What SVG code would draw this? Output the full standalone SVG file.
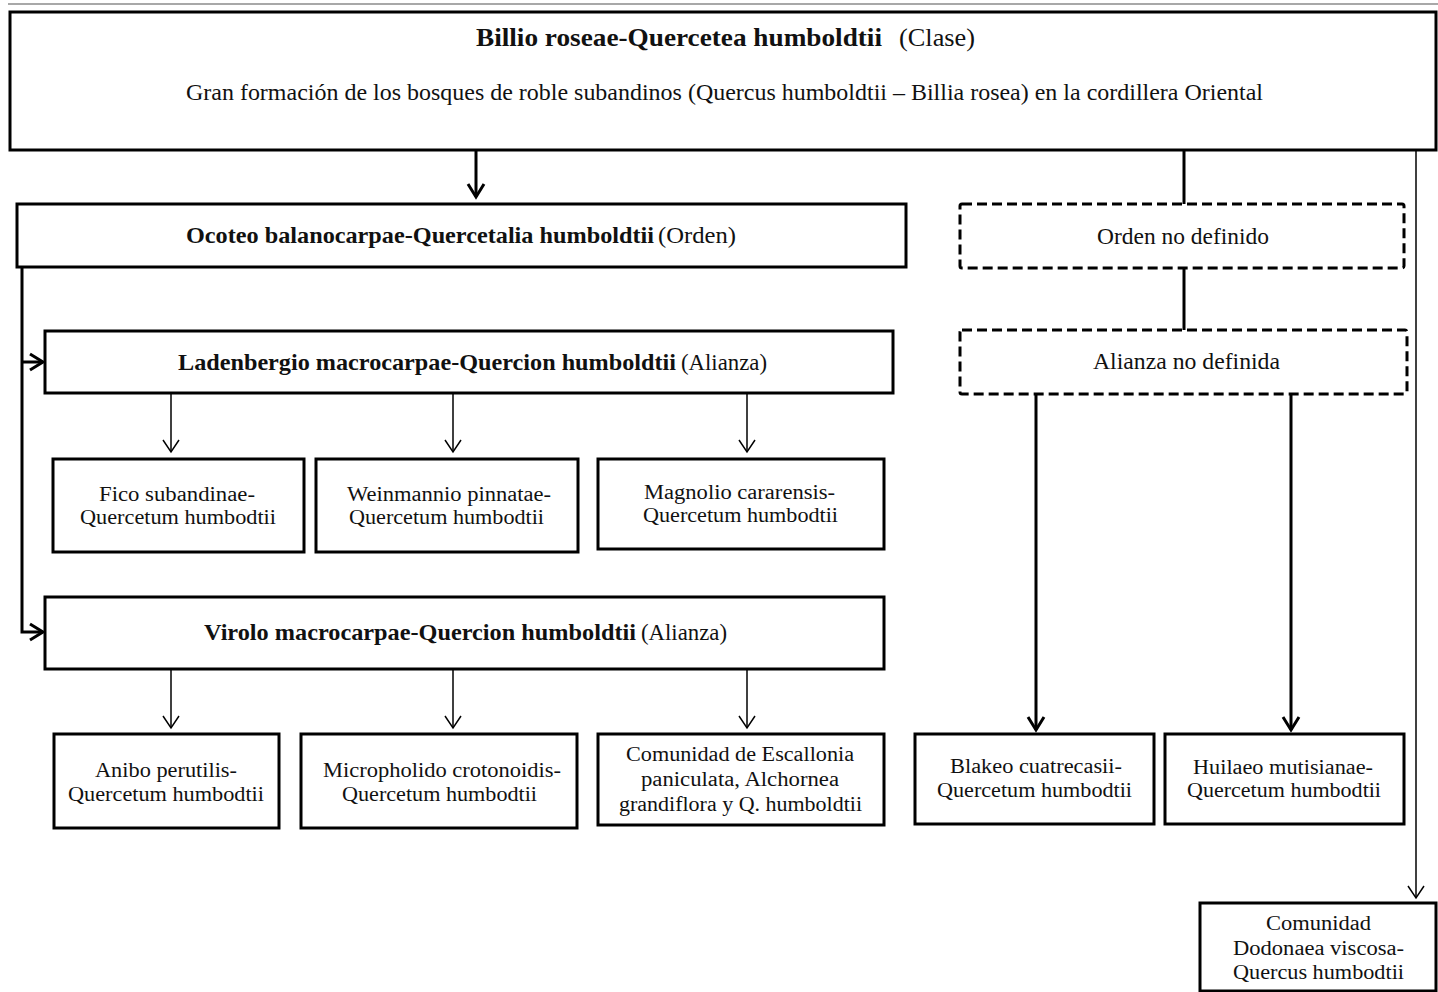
<svg xmlns="http://www.w3.org/2000/svg" width="1438" height="992" viewBox="0 0 1438 992">
  <style>
    .box { fill: #fff; stroke: #000; stroke-width: 3; }
    .dash { fill: #fff; stroke: #000; stroke-width: 3; stroke-dasharray: 10 5; }
    .t { font-family: "Liberation Serif", "Times New Roman", serif; fill: #111; }
    .b { font-weight: bold; }
    .big { font-size: 25px; }
    .mid { font-size: 23px; }
    .sm { font-size: 20px; }
    .thick { fill: none; stroke: #000; stroke-width: 3; }
    .thin { fill: none; stroke: #000; stroke-width: 1.5; }
  </style>
  <defs>
    <marker id="ahThick" markerUnits="userSpaceOnUse" markerWidth="20" markerHeight="20" viewBox="-15 -10 17 20" refX="0" refY="0" orient="auto">
      <path d="M-13,-8 L0,0 L-13,8" fill="none" stroke="#000" stroke-width="3"/>
    </marker>
    <marker id="ahThin" markerUnits="userSpaceOnUse" markerWidth="20" markerHeight="20" viewBox="-15 -10 17 20" refX="0" refY="0" orient="auto">
      <path d="M-12,-8 L0,0 L-12,8" fill="none" stroke="#000" stroke-width="1.5"/>
    </marker>
  </defs>

  <rect width="1438" height="992" fill="#fff"/>
  <line x1="8" y1="4" x2="1438" y2="4" stroke="#a8a8a8" stroke-width="2"/>

  <!-- connectors -->
  <g id="connectors">
    <path class="thick" d="M476,150 V197" marker-end="url(#ahThick)"/>
    <path class="thick" d="M22,267 V632 H43" marker-end="url(#ahThick)"/>
    <path class="thick" d="M22,362 H43" marker-end="url(#ahThick)"/>
    <path class="thin" d="M171,393 V452" marker-end="url(#ahThin)"/>
    <path class="thin" d="M453,393 V452" marker-end="url(#ahThin)"/>
    <path class="thin" d="M747,393 V452" marker-end="url(#ahThin)"/>
    <path class="thin" d="M171,669 V728" marker-end="url(#ahThin)"/>
    <path class="thin" d="M453,669 V728" marker-end="url(#ahThin)"/>
    <path class="thin" d="M747,669 V728" marker-end="url(#ahThin)"/>
    <path class="thick" d="M1184,150 V204"/>
    <path class="thick" d="M1184,268 V330"/>
    <path class="thick" d="M1036,394 V730" marker-end="url(#ahThick)"/>
    <path class="thick" d="M1291,394 V730" marker-end="url(#ahThick)"/>
    <path class="thin" d="M1416,150 V898" marker-end="url(#ahThin)"/>
  </g>

  <!-- class -->
  <g id="clase">
    <rect class="box" x="10" y="12" width="1426" height="138"/>
    <text class="t b big" x="476" y="46" textLength="406" lengthAdjust="spacingAndGlyphs">Billio  roseae-Quercetea humboldtii</text>
    <text class="t big" x="899" y="46" textLength="76" lengthAdjust="spacingAndGlyphs">(Clase)</text>
    <text class="t mid" x="186" y="100" textLength="1077" lengthAdjust="spacingAndGlyphs">Gran formación de los bosques de roble subandinos (Quercus humboldtii – Billia  rosea) en la cordillera Oriental</text>
  </g>

  <!-- order -->
  <g id="orden">
    <rect class="box" x="17" y="204" width="889" height="63"/>
    <text class="t b mid" x="186" y="243" textLength="468" lengthAdjust="spacingAndGlyphs">Ocoteo balanocarpae-Quercetalia humboldtii</text>
    <text class="t mid" x="658" y="243" textLength="78" lengthAdjust="spacingAndGlyphs">(Orden)</text>
  </g>

  <g id="orden-no-definido">
    <rect class="dash" x="960" y="204" width="444" height="64" rx="2"/>
    <text class="t mid" x="1097" y="244" textLength="172" lengthAdjust="spacingAndGlyphs">Orden no definido</text>
  </g>

  <!-- alliances -->
  <g id="ladenbergio">
    <rect class="box" x="45" y="331" width="848" height="62"/>
    <text class="t b mid" x="178" y="370" textLength="498" lengthAdjust="spacingAndGlyphs">Ladenbergio macrocarpae-Quercion humboldtii</text>
    <text class="t mid" x="681" y="370" textLength="86" lengthAdjust="spacingAndGlyphs">(Alianza)</text>
  </g>

  <g id="alianza-no-definida">
    <rect class="dash" x="960" y="330" width="447" height="64" rx="2"/>
    <text class="t mid" x="1093" y="369" textLength="187" lengthAdjust="spacingAndGlyphs">Alianza  no definida</text>
  </g>

  <g id="virolo">
    <rect class="box" x="45" y="597" width="839" height="72"/>
    <text class="t b mid" x="204" y="640" textLength="432" lengthAdjust="spacingAndGlyphs">Virolo macrocarpae-Quercion humboldtii</text>
    <text class="t mid" x="641" y="640" textLength="86" lengthAdjust="spacingAndGlyphs">(Alianza)</text>
  </g>

  <!-- associations, first row -->
  <g id="fico">
    <rect class="box" x="53" y="459" width="251" height="93"/>
    <text class="t sm" x="99" y="501" textLength="156" lengthAdjust="spacingAndGlyphs">Fico subandinae-</text>
    <text class="t sm" x="80" y="524" textLength="196" lengthAdjust="spacingAndGlyphs">Quercetum humbodtii</text>
  </g>

  <g id="weinmannio">
    <rect class="box" x="316" y="459" width="262" height="93"/>
    <text class="t sm" x="347" y="501" textLength="204" lengthAdjust="spacingAndGlyphs">Weinmannio pinnatae-</text>
    <text class="t sm" x="349" y="524" textLength="195" lengthAdjust="spacingAndGlyphs">Quercetum humbodtii</text>
  </g>

  <g id="magnolio">
    <rect class="box" x="598" y="459" width="286" height="90"/>
    <text class="t sm" x="644" y="499" textLength="191" lengthAdjust="spacingAndGlyphs">Magnolio cararensis-</text>
    <text class="t sm" x="643" y="522" textLength="195" lengthAdjust="spacingAndGlyphs">Quercetum humbodtii</text>
  </g>

  <!-- associations, second row -->
  <g id="anibo">
    <rect class="box" x="54" y="734" width="225" height="94"/>
    <text class="t sm" x="95" y="777" textLength="142" lengthAdjust="spacingAndGlyphs">Anibo perutilis-</text>
    <text class="t sm" x="68" y="801" textLength="196" lengthAdjust="spacingAndGlyphs">Quercetum humbodtii</text>
  </g>

  <g id="micropholido">
    <rect class="box" x="301" y="734" width="276" height="94"/>
    <text class="t sm" x="323" y="777" textLength="238" lengthAdjust="spacingAndGlyphs">Micropholido crotonoidis-</text>
    <text class="t sm" x="342" y="801" textLength="195" lengthAdjust="spacingAndGlyphs">Quercetum humbodtii</text>
  </g>

  <g id="escallonia">
    <rect class="box" x="598" y="734" width="286" height="91"/>
    <text class="t sm" x="626" y="761" textLength="228" lengthAdjust="spacingAndGlyphs">Comunidad de Escallonia</text>
    <text class="t sm" x="641" y="786" textLength="198" lengthAdjust="spacingAndGlyphs">paniculata, Alchornea</text>
    <text class="t sm" x="619" y="811" textLength="243" lengthAdjust="spacingAndGlyphs">grandiflora y Q. humboldtii</text>
  </g>

  <g id="blakeo">
    <rect class="box" x="915" y="734" width="239" height="90"/>
    <text class="t sm" x="950" y="773" textLength="172" lengthAdjust="spacingAndGlyphs">Blakeo cuatrecasii-</text>
    <text class="t sm" x="937" y="797" textLength="195" lengthAdjust="spacingAndGlyphs">Quercetum humbodtii</text>
  </g>

  <g id="huilaeo">
    <rect class="box" x="1165" y="734" width="239" height="90"/>
    <text class="t sm" x="1193" y="774" textLength="180" lengthAdjust="spacingAndGlyphs">Huilaeo mutisianae-</text>
    <text class="t sm" x="1187" y="797" textLength="194" lengthAdjust="spacingAndGlyphs">Quercetum humbodtii</text>
  </g>

  <g id="dodonaea">
    <rect class="box" x="1200" y="903" width="236" height="88"/>
    <text class="t sm" x="1266" y="930" textLength="105" lengthAdjust="spacingAndGlyphs">Comunidad</text>
    <text class="t sm" x="1233" y="955" textLength="171" lengthAdjust="spacingAndGlyphs">Dodonaea viscosa-</text>
    <text class="t sm" x="1233" y="979" textLength="171" lengthAdjust="spacingAndGlyphs">Quercus humbodtii</text>
  </g>
</svg>
